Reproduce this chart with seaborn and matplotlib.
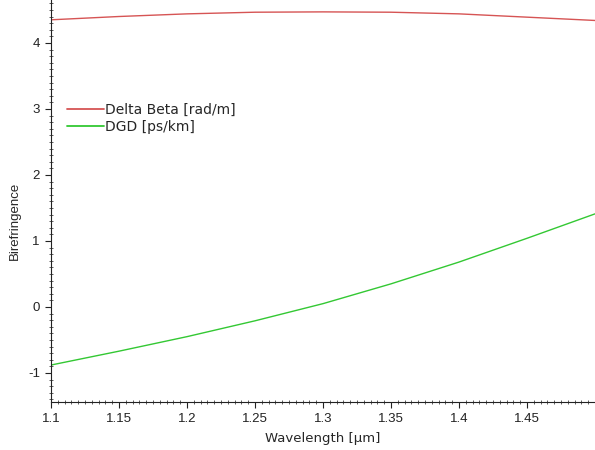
import matplotlib
matplotlib.use("Agg")
import matplotlib.pyplot as plt
from matplotlib.ticker import MultipleLocator, FixedLocator
import seaborn as sns
import pandas as pd

wavelength = [1.10, 1.15, 1.20, 1.25, 1.30, 1.35, 1.40, 1.45, 1.50]
delta_beta = [4.35, 4.40, 4.44, 4.465, 4.47, 4.465, 4.44, 4.39, 4.34]
dgd = [-0.88, -0.67, -0.45, -0.21, 0.05, 0.35, 0.68, 1.04, 1.41]
series_names = ["Delta Beta [rad/m]", "DGD [ps/km]"]
x_ticks = [1.1, 1.15, 1.2, 1.25, 1.3, 1.35, 1.4, 1.45]
x_tick_labels = ["1.1", "1.15", "1.2", "1.25", "1.3", "1.35", "1.4", "1.45"]
y_ticks = [-1, 0, 1, 2, 3, 4]

df = pd.DataFrame({
    "Wavelength": wavelength * 2,
    "Birefringence": delta_beta + dgd,
    "Series": [series_names[0]] * len(wavelength) + [series_names[1]] * len(wavelength),
})

sns.set_style("white")
plt.rcParams["font.family"] = ["Liberation Sans", "DejaVu Sans"]
plt.rcParams["axes.unicode_minus"] = False

fig = plt.figure(figsize=(5.95, 4.5), dpi=100)
ax = fig.add_axes([51 / 595, 48 / 450, 544 / 595, 402 / 450])

sns.lineplot(data=df, x="Wavelength", y="Birefringence", hue="Series",
             palette={series_names[0]: "#d65454", series_names[1]: "#33c833"},
             linewidth=1.0, ax=ax, legend=True)

ax.set_xlim(1.1, 1.5)
ax.set_ylim(-1.44, 4.65)
ax.xaxis.set_major_locator(FixedLocator(x_ticks))
ax.set_xticklabels(x_tick_labels)
ax.yaxis.set_major_locator(FixedLocator(y_ticks))
ax.xaxis.set_minor_locator(MultipleLocator(0.005))
ax.yaxis.set_minor_locator(MultipleLocator(0.1))
ax.tick_params(axis="both", which="major", direction="out", length=4, width=0.8,
               labelsize=9.5, colors="#222222", pad=4, bottom=True, left=True)
ax.tick_params(axis="both", which="minor", direction="inout", length=2.5, width=0.6,
               colors="#444444", bottom=True, left=True)

for side in ["top", "right"]:
    ax.spines[side].set_visible(False)
for side in ["left", "bottom"]:
    ax.spines[side].set_color("#222222")
    ax.spines[side].set_linewidth(0.8)

ax.set_xlabel("Wavelength [µm]", fontsize=9.5, labelpad=5,
              family=["DejaVu Sans"])
ax.set_ylabel("Birefringence", fontsize=9.5)
ax.yaxis.set_label_coords(-0.055, 0.45)

leg = ax.legend(loc="upper left", bbox_to_anchor=(0.02, 0.757), frameon=False,
                prop={"family": "DejaVu Sans", "size": 10},
                handlelength=2.6, handletextpad=0.1,
                labelspacing=0.2, borderaxespad=0)
for line in leg.get_lines():
    line.set_linewidth(1.3)

fig.savefig("out.png", dpi=100)
